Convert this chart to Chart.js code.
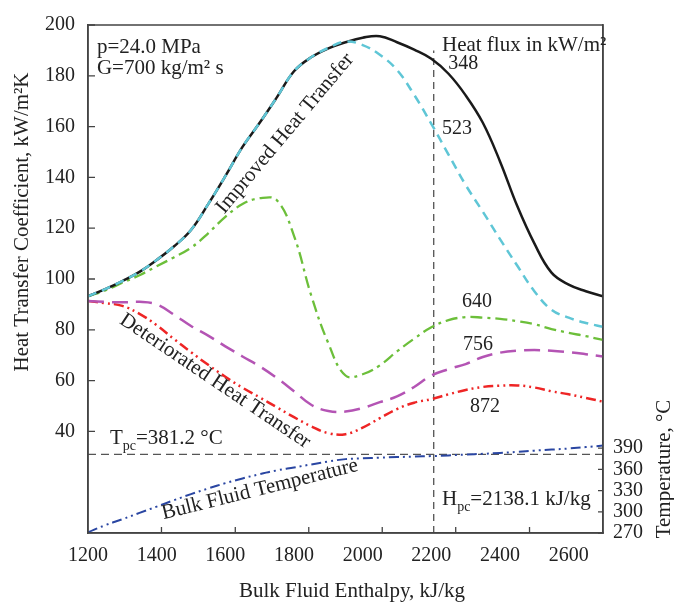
<!DOCTYPE html>
<html><head><meta charset="utf-8">
<script src="https://cdn.jsdelivr.net/npm/chart.js@4.4.0/dist/chart.umd.min.js"></script>
<style>html,body{margin:0;padding:0;background:#fff}canvas{display:block}</style>
</head><body>
<canvas id="c" width="674" height="605"></canvas>
<script>
// ---------- data ----------
const enthalpy = [1200,1250,1300,1350,1400,1450,1500,1550,1600,1650,1700,1750,1800,1850,1900,1950,2000,2050,2100,2150,2200,2250,2300,2350,2400,2450,2500,2550,2600,2650,2700];
const htc348 = [93.2,96,99.2,102.8,107.5,112.8,119.3,129.5,140.5,152,161.5,171.5,181.8,187.3,190.8,193.2,195,195.6,193.2,190.3,186.7,180.8,172.3,161.5,146.3,128.8,114,102.5,97.8,95.2,93.2];
const htc523 = [93.2,96,99.2,102.8,107.5,112.8,119.3,129.5,140.5,152,161.5,171.5,181.8,187.3,191,193.5,192.1,188.3,182.3,172.5,161.1,149,137,126.5,115.7,105.3,95.2,87.9,84.8,82.7,81.2];
const htc640 = [93.2,95.5,98.5,101.5,105,108.5,112.3,118,124.5,129.5,131.8,131,117,93.6,74.7,62,62.5,66,71.5,76.5,81,83.8,85,84.8,84.3,83.4,82.2,80.3,78.8,77.5,76];
const htc756 = [91.3,91,90.8,91,90,86,81.5,77.7,73.5,69.5,65.6,61,55.8,50.5,48,47.8,49.2,51.5,53.8,57.5,62,64.5,66.5,69.3,71,71.8,72,71.8,71.2,70.4,69.5];
const htc872 = [91.3,90.5,89.4,86.3,81.8,76.4,71.2,66.2,61.5,57.2,53.4,49.5,45.6,42,39.3,38.9,41.5,45.2,48.8,51.3,52.7,54.6,56.3,57.5,58,58.1,57.3,55.8,54.6,53.2,51.7];
const bulkTemp = [271,281,289.5,298.5,307.3,316.3,325,333,340.5,347.2,353.2,358.5,362.7,367,371.2,374.5,375.6,376.5,377.4,378.1,378.8,379.8,381,382,383.2,384.8,386.5,388,389.5,391.5,393.7];

const xTickLabels = [1200,1400,1600,1800,2000,2200,2400,2600];
const xTickMarks = [1414,1629,1843,2057,2271,2486];
const yTickLabels = [40,60,80,100,120,140,160,180,200];
const tTickLabels = [270,300,330,360,390];
const T_PC = 381.2;
const H_LINE = 2207;

const FONT = '"Liberation Serif", "DejaVu Serif", serif';
const INK = '#222';

function pts(vals){ return enthalpy.map((h,i)=>({x:h,y:vals[i]})); }

const ds = (label, vals, color, dash, width, order, axis) => ({
  label, data: pts(vals), borderColor: color, borderDash: dash, borderWidth: width,
  pointRadius: 0, fill: false, tension: 0.4, order, yAxisID: axis || 'y'
});

const annotations = [
  {text:'p=24.0 MPa', x:1226, y:189.1, align:'left'},
  {text:'G=700 kg/m² s', x:1226, y:180.6, align:'left'},
  {text:'Heat flux in kW/m²', x:2231, y:189.9, align:'left'},
  {text:'348', x:2249, y:182.5, align:'left', size:20},
  {text:'523', x:2231, y:156.9, align:'left', size:20},
  {text:'640', x:2333, y:88.9, align:'center', size:20},
  {text:'756', x:2336, y:72.2, align:'center', size:20},
  {text:'872', x:2356, y:47.8, align:'center', size:20},
];
const rotated = [
  {text:'Improved Heat Transfer', x:1774, y:157.3, angle:-50},
  {text:'Deteriorated Heat Transfer', x:1570, y:59.8, angle:34},
  {text:'Bulk Fluid Temperature', x:1701, y:17.1, angle:-14},
];
const subs = [
  {main:'T', sub:'pc', rest:'=381.2 °C', x:1264, y:35},
  {main:'H', sub:'pc', rest:'=2138.1 kJ/kg', x:2231, y:10.9},
];

const decor = {
  id:'decor',
  afterDraw(chart){
    const {ctx, chartArea:a, scales} = chart;
    const xs = scales.x, ys = scales.y, ts = scales.y2;
    ctx.save();
    ctx.strokeStyle = '#444'; ctx.lineWidth = 1.5;
    ctx.strokeRect(a.left, a.top, a.right-a.left, a.bottom-a.top);
    ctx.lineWidth = 1.3;
    ctx.beginPath();
    yTickLabels.forEach(v=>{ const p = ys.getPixelForValue(v); ctx.moveTo(a.left,p); ctx.lineTo(a.left+7,p); });
    tTickLabels.forEach(v=>{ const p = ts.getPixelForValue(v); ctx.moveTo(a.right,p); ctx.lineTo(a.right-5,p); });
    xTickMarks.forEach(v=>{ const p = xs.getPixelForValue(v); ctx.moveTo(p,a.bottom); ctx.lineTo(p,a.bottom-6); });
    ctx.stroke();
    ctx.fillStyle = INK;
    ctx.textBaseline = 'alphabetic';
    annotations.forEach(t=>{
      ctx.font = (t.size||21)+'px '+FONT;
      ctx.textAlign = t.align;
      ctx.fillText(t.text, xs.getPixelForValue(t.x), ys.getPixelForValue(t.y));
    });
    subs.forEach(t=>{
      let px = xs.getPixelForValue(t.x), py = ys.getPixelForValue(t.y);
      ctx.textAlign = 'left';
      ctx.font = '21px '+FONT; ctx.fillText(t.main, px, py); px += ctx.measureText(t.main).width;
      ctx.font = '14px '+FONT; ctx.fillText(t.sub, px, py+6); px += ctx.measureText(t.sub).width;
      ctx.font = '21px '+FONT; ctx.fillText(t.rest, px, py);
    });
    ctx.textAlign = 'center'; ctx.textBaseline = 'middle';
    ctx.font = '21px '+FONT;
    rotated.forEach(t=>{
      ctx.save();
      ctx.translate(xs.getPixelForValue(t.x), ys.getPixelForValue(t.y));
      ctx.rotate(t.angle*Math.PI/180);
      ctx.fillText(t.text, 0, 0);
      ctx.restore();
    });
    ctx.font = '21px '+FONT;
    ctx.fillText('Bulk Fluid Enthalpy, kJ/kg', 352, 591);
    ctx.save(); ctx.translate(22, 222); ctx.rotate(-Math.PI/2);
    ctx.fillText('Heat Transfer Coefficient, kW/m²K', 0, 0); ctx.restore();
    ctx.save(); ctx.translate(664, 469); ctx.rotate(-Math.PI/2);
    ctx.fillText('Temperature, °C', 0, 0); ctx.restore();
    ctx.restore();
  }
};

const tickFont = {family:FONT, size:20};
new Chart(document.getElementById('c'), {
  type:'line',
  data:{ datasets:[
    ds('523', htc523, '#5fc6d6', [9,6], 2.5, 0),
    ds('348', htc348, '#1a1a1a', [], 2.5, 1),
    ds('640', htc640, '#6cbf3a', [12,5,3,5], 2.3, 2),
    ds('756', htc756, '#b454b4', [16,8], 2.5, 3),
    ds('872', htc872, '#ee2525', [10,4,2,4,2,4], 2.5, 4),
    ds('Bulk Fluid Temperature', bulkTemp, '#2a46a2', [10,4,2,4,2,4], 2, 5, 'y2'),
    {label:'Tpc', data:[{x:1200,y:T_PC},{x:2700,y:T_PC}], yAxisID:'y2', borderColor:'#555', borderDash:[8,5], borderWidth:1.3, pointRadius:0, order:6},
    {label:'Hpc', data:[{x:H_LINE,y:0},{x:H_LINE,y:190}], yAxisID:'y', borderColor:'#444', borderDash:[7,5], borderWidth:1.2, pointRadius:0, order:7},
  ]},
  options:{
    responsive:false, devicePixelRatio:1, animation:false,
    layout:{ padding:{top:18, left:0, right:0, bottom:0} },
    plugins:{ legend:{display:false}, tooltip:{enabled:false} },
    scales:{
      x:{ type:'linear', min:1200, max:2700,
        afterBuildTicks: s=>{ s.ticks = xTickLabels.map(v=>({value:v})); },
        afterFit: s=>{ s.height = 72; },
        grid:{display:false, drawTicks:false}, border:{display:true, color:'#444', width:1.5},
        ticks:{ padding:11, color:INK, font:tickFont, maxRotation:0, autoSkip:false, callback:v=>String(v) } },
      y:{ type:'linear', position:'left', min:0, max:200,
        afterBuildTicks: s=>{ s.ticks = yTickLabels.map(v=>({value:v})); },
        afterFit: s=>{ s.width = 88; },
        grid:{display:false, drawTicks:false}, border:{display:true, color:'#444', width:1.5},
        ticks:{ padding:13, color:INK, font:tickFont, callback:v=>String(v) } },
      y2:{ type:'linear', position:'right', min:270, max:988.6,
        afterBuildTicks: s=>{ s.ticks = tTickLabels.map(v=>({value:v})); },
        afterFit: s=>{ s.width = 71; },
        grid:{display:false, drawTicks:false}, border:{display:true, color:'#444', width:1.5},
        ticks:{ padding:10, color:INK, font:tickFont, callback:v=>String(v) } }
    }
  },
  plugins:[decor]
});
</script>
</body></html>
